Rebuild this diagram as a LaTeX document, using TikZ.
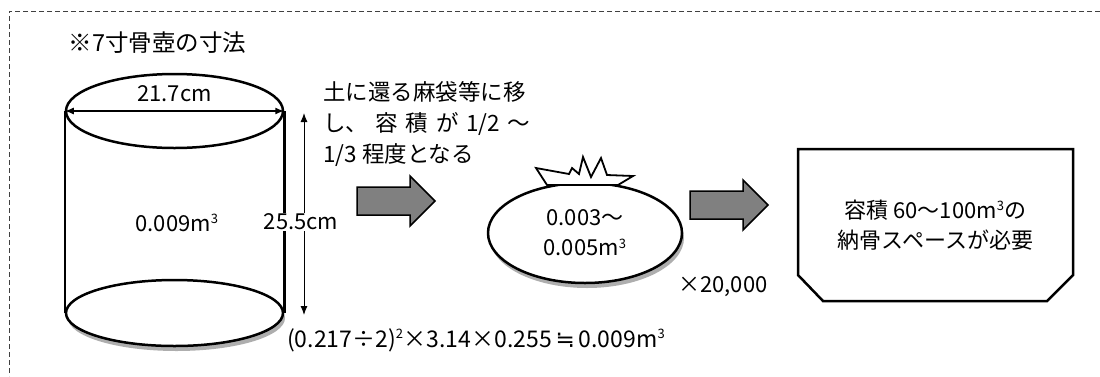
\documentclass[tikz,border=0pt]{standalone}
\usepackage{fontspec}
\setmainfont{Noto Sans CJK JP}
\newfontfamily\symfont{DejaVu Sans}
\usetikzlibrary{positioning,shapes.geometric,arrows.meta,shadows,calc}

\tikzset{
  jpfont/.style={font=\fontsize{22}{30}\selectfont},
  potline/.style={draw, line width=2.5pt, fill=white},
  dimline/.style={line width=1pt, {Latex[length=9pt,width=7pt]}-{Latex[length=9pt,width=7pt]}},
  blockarrow/.style={draw, line width=1.5pt, fill=black!50, line join=miter},
  softshadow/.style={drop shadow={shadow xshift=2pt, shadow yshift=-5pt, opacity=.45, fill=black!70}},
}
\newcommand{\cube}{\textsuperscript{\fontsize{13}{13}\selectfont 3}}

\begin{document}
\begin{tikzpicture}[x=1pt,y=-1pt]
\useasboundingbox (0,0) rectangle (1100,376);
% frame, open to the right and the bottom
\draw[dash pattern=on 5pt off 3pt, black!75, line width=.8pt] (1100,11) -- (9,11) -- (9,376);
\node[anchor=west, font=\fontsize{23.5}{30}\selectfont] (title) at (65,43) {※7寸骨壺の寸法};

% the urn
\node[potline, ellipse, minimum width=217pt, minimum height=66pt, softshadow] (base) at (174.5,313) {};
\node[potline, ellipse, minimum width=217pt, minimum height=74pt] (lid) at (174.5,111) {};
\draw[line width=2.5pt] (lid.west) -- (base.west);
\draw[line width=2.5pt] (lid.east) -- (base.east);
\draw[dimline, line width=1.5pt] (lid.west) -- (lid.east);
\node[jpfont] (width) at (174.5,94) {21.7cm};
\node[jpfont] (vol) at (177,223) {0.009m\cube};

\coordinate (htop) at (304,113);
\coordinate (hbot) at (304,315);
\draw[dimline] (hbot) -- node[pos=.46, xshift=-3pt, fill=white, inner sep=1pt, jpfont] (height) {25.5cm} (htop);
\node[anchor=west, inner sep=0pt, font=\fontsize{23}{30}\selectfont] (calc) at (287,340)
  {(0.217÷2)\textsuperscript{\fontsize{13}{13}\selectfont 2}×3.14×0.255\,{\symfont ≒}\,0.009m\cube};

% note
\node[anchor=west, inner sep=0pt, align=left, font=\fontsize{22.5}{31}\selectfont] (note) at (323,124)
  {土に還る麻袋等に移\\\makebox[207pt][s]{し、\hfill 容\hfill 積\hfill が\hfill 1/2\hfill ～}\\1/3 程度となる};

% block arrows
\foreach \ax/\ay in {357/201,690/205}
  \draw[blockarrow] (\ax,\ay) ++(0,-14) -- ++(53,0) -- ++(0,-11) -- ++(25,25)
    -- ++(-25,25) -- ++(0,-11) -- ++(-53,0) -- cycle;

% the bag
\node[potline, ellipse, minimum width=194pt, minimum height=100pt, softshadow, align=center, jpfont] (bag) at (585,233)
  {0.003～\\0.005m\cube};
\draw[line width=1.8pt, fill=white, line join=miter] (547,185) -- (536,168) -- (569,174) -- (572,168) -- (579,174)
  -- (583,157) -- (591,177) -- (601,158) -- (607,175) -- (633,176) -- (618,185) -- cycle;
\node[jpfont] (times) at (723,287) {×20,000};

% needed space
\node[minimum width=275pt, minimum height=152pt, inner sep=0pt, outer sep=0pt, align=center, jpfont] (space) at (935.5,225)
  {容積 60～100m\cube の\\納骨スペースが必要};
\draw[line width=2.5pt, line join=miter] (space.north west) -- (space.north east) -- ([yshift=26pt]space.south east)
  -- ([xshift=-26pt]space.south east) -- ([xshift=25pt]space.south west) -- ([yshift=26pt]space.south west) -- cycle;
\end{tikzpicture}
\end{document}
